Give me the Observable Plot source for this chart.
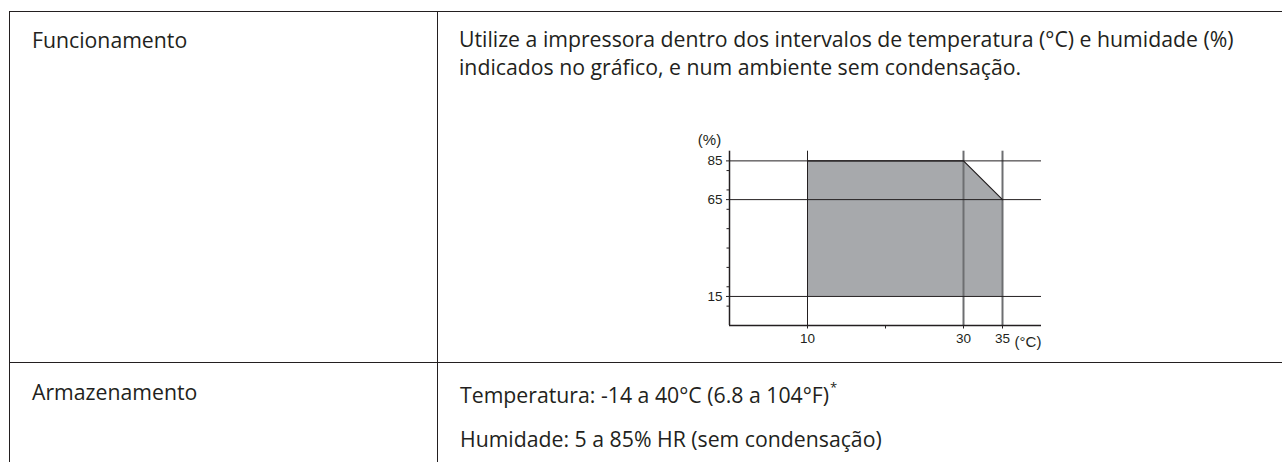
<!DOCTYPE html>
<html>
<head>
<meta charset="utf-8">
<script src="https://cdn.jsdelivr.net/npm/d3@7"></script>
<script src="https://cdn.jsdelivr.net/npm/@observablehq/plot@0.6"></script>
<style>
  html, body { margin: 0; padding: 0; background: #fff; }
  #page { position: relative; width: 1282px; height: 462px; overflow: hidden; background: #fff; }
  #page > svg { position: absolute; }
</style>
</head>
<body>
<div id="page"></div>
<script>
// ---- data ----
const rowLabels = ["Funcionamento", "Armazenamento"];
const operatingText = [
  "Utilize a impressora dentro dos intervalos de temperatura (°C) e humidade (%)",
  "indicados no gráfico, e num ambiente sem condensação."
];
const storageText = [
  "Temperatura: -14 a 40°C (6.8 a 104°F)",
  "Humidade: 5 a 85% HR (sem condensação)"
];
const footnoteMark = "*";

const envTemp = [10, 30, 35];      // °C
const envHumHigh = [85, 85, 65];   // %
const envHumLow = [15, 15, 15];    // %
const tempGrid = [10, 30, 35];
const humGrid = [15, 65, 85];
const xTicks = [10, 20, 30, 35];
const xTickLabels = ["10", "", "30", "35"];
const yMinorTicks = [10, 20, 30, 40, 50, 60, 70, 80];
const unitLabels = ["(%)", "(°C)"];

const envelope = envTemp.map((t, i) => ({t, hi: envHumHigh[i], lo: envHumLow[i]}));

// ---- table (page frame) ----
const ink = "#231f20";
const page = document.getElementById("page");
const textFont = "'Open Sans', 'Noto Sans', sans-serif";

// fit font size so that first long line matches its width in the reference
const ctx = document.createElement("canvas").getContext("2d");
ctx.font = `20px ${textFont}`;
const w20 = ctx.measureText(operatingText[0]).width;
const fs = Math.min(22, Math.max(14, 20 * 775 / w20));

const table = d3.create("svg")
  .attr("width", 1282).attr("height", 462)
  .style("left", "0px").style("top", "0px");

const lines = [
  [9, 11.5, 1282, 11.5],
  [9.5, 11, 9.5, 462],
  [437.5, 11, 437.5, 462],
  [9, 362.5, 1282, 362.5]
];
table.selectAll("line").data(lines).join("line")
  .attr("x1", d => d[0]).attr("y1", d => d[1]).attr("x2", d => d[2]).attr("y2", d => d[3])
  .attr("stroke", ink).attr("stroke-width", 1);

const texts = [
  {s: rowLabels[0], x: 32, y: 48},
  {s: operatingText[0], x: 459, y: 47},
  {s: operatingText[1], x: 459, y: 75},
  {s: rowLabels[1], x: 32, y: 400},
  {s: storageText[0], x: 460, y: 403, sup: footnoteMark},
  {s: storageText[1], x: 460, y: 447}
];
const tg = table.append("g").attr("font-family", textFont).attr("font-size", fs).attr("fill", ink);
texts.forEach(d => {
  const t = tg.append("text").attr("x", d.x).attr("y", d.y).text(d.s);
  if (d.sup) t.append("tspan").attr("font-size", fs * 0.62).attr("dx", 1).attr("dy", -fs * 0.5).text(d.sup);
});
page.appendChild(table.node());

// ---- chart ----
const tickFont = "'Liberation Sans Narrow', 'Liberation Sans', Arial, sans-serif";
const chart = Plot.plot({
  width: 400,
  height: 230,
  marginLeft: 69,
  marginRight: 19,
  marginTop: 30.7,
  marginBottom: 25,
  x: {domain: [0, 40]},
  y: {domain: [0, 90]},
  style: {
    fontFamily: tickFont,
    fontSize: "13px",
    color: ink,
    background: "transparent",
    overflow: "visible"
  },
  marks: [
    Plot.areaY(envelope, {x: "t", y1: "lo", y2: "hi", fill: "#a7a9ac", curve: "linear"}),
    Plot.ruleX(tempGrid.slice(1), {y1: 0, y2: 90, stroke: "#6d6e71", strokeWidth: 2}),
    Plot.ruleX(tempGrid.slice(0, 1), {y1: 0, y2: 90, stroke: ink, strokeWidth: 1}),
    Plot.ruleY(humGrid, {x1: 0, x2: 40, stroke: ink, strokeWidth: 1}),
    Plot.line(envelope, {x: "t", y: "hi", stroke: ink, strokeWidth: 1.2}),
    Plot.ruleX([0], {y1: 0, y2: 90, stroke: ink, strokeWidth: 1.5}),
    Plot.ruleY([0], {x1: 0, x2: 40, stroke: ink, strokeWidth: 1.5}),
    Plot.axisX({ticks: xTicks, tickSize: 3.5, tickPadding: 4, label: null, fontSize: 13.5, fontFamily: tickFont,
      tickFormat: d => xTickLabels[xTicks.indexOf(d)], stroke: ink, fill: ink}),
    Plot.axisY({ticks: humGrid, tickSize: 3, tickPadding: 4, label: null, fontSize: 13.5, fontFamily: tickFont, stroke: ink, fill: ink}),
    Plot.axisY({ticks: yMinorTicks, tickSize: 2.5, label: null, tickFormat: () => "", stroke: ink}),
    Plot.text([unitLabels[0]], {frameAnchor: "top-left", dx: -20, dy: -11, textAnchor: "middle", lineAnchor: "middle",
      fontSize: 15, fontFamily: tickFont, fill: ink}),
    Plot.text([unitLabels[1]], {frameAnchor: "bottom-right", dx: -13.5, dy: 17, textAnchor: "middle", lineAnchor: "middle",
      fontSize: 15, fontFamily: tickFont, fill: ink})
  ]
});
chart.style.left = "660px";
chart.style.top = "120px";
page.appendChild(chart);
</script>
</body>
</html>
